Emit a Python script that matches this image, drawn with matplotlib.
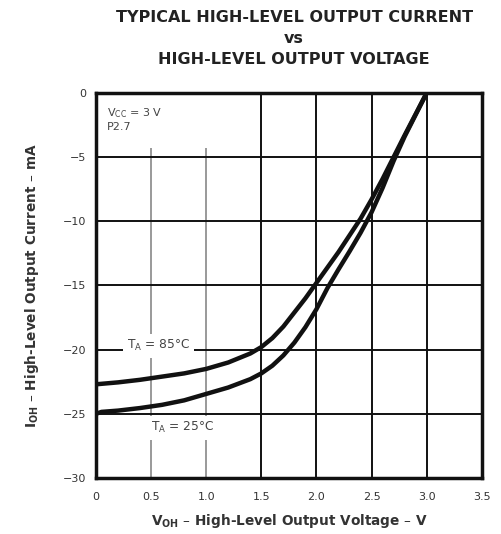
import numpy as np
import matplotlib
matplotlib.use("Agg")
import matplotlib.pyplot as plt
from matplotlib.patches import Rectangle

plt.rcParams['font.family'] = ['DejaVu Sans']

# (V_OH in V, I_OH in mA)
v_85 = [0.0, 0.2, 0.4, 0.6, 0.8, 1.0, 1.2, 1.4, 1.5, 1.6, 1.7, 1.8, 1.9, 2.0,
        2.1, 2.2, 2.3, 2.4, 2.5, 2.6, 2.7, 2.8, 2.9, 3.0]
i_85 = [-22.7, -22.55, -22.35, -22.1, -21.85, -21.5, -21.0, -20.3, -19.8, -19.1,
        -18.2, -17.1, -16.0, -14.8, -13.6, -12.4, -11.1, -9.8, -8.3, -6.7,
        -5.0, -3.3, -1.65, 0.0]

v_25 = [0.0, 0.05, 0.2, 0.4, 0.6, 0.8, 1.0, 1.2, 1.4, 1.5, 1.6, 1.7, 1.8, 1.9,
        2.0, 2.1, 2.2, 2.3, 2.4, 2.5, 2.6, 2.7, 2.8, 2.9, 3.0]
i_25 = [-25.0, -24.85, -24.75, -24.55, -24.3, -23.95, -23.45, -22.95, -22.3,
        -21.85, -21.25, -20.45, -19.45, -18.25, -16.85, -15.2, -13.75, -12.35,
        -10.9, -9.3, -7.4, -5.3, -3.4, -1.7, 0.0]

x_ticks = [0, 0.5, 1.0, 1.5, 2.0, 2.5, 3.0, 3.5]
x_labels = ['0', '0.5', '1.0', '1.5', '2.0', '2.5', '3.0', '3.5']
y_ticks = [0, -5, -10, -15, -20, -25, -30]
y_labels = ['0', '\u22125', '\u221210', '\u221215', '\u221220', '\u221225', '\u221230']

fig = plt.figure(figsize=(5.01, 5.34), dpi=100)
ax = fig.add_axes([0.1916, 0.1049, 0.770, 0.721])

ax.set_xlim(0, 3.5)
ax.set_ylim(-30, 0)
ax.set_xticks(x_ticks)
ax.set_xticklabels(x_labels)
ax.set_yticks(y_ticks)
ax.set_yticklabels(y_labels)
ax.tick_params(length=0, labelsize=8, colors='#333333')
ax.tick_params(axis='x', pad=10)
ax.tick_params(axis='y', pad=7)

ax.set_axisbelow(True)
ax.grid(True, color='#111111', linewidth=1.4)
# the two leftmost verticals print lighter in the datasheet
for gl in ax.xaxis.get_gridlines()[1:3]:
    gl.set_color('#999999')
for s in ax.spines.values():
    s.set_linewidth(2.5)
    s.set_color('#111111')
    s.set_zorder(5)

# blank area behind the condition note
ax.add_patch(Rectangle((0.02, -4.3), 1.2, 4.25, facecolor='white',
                       edgecolor='none', zorder=2))

ax.plot(v_85, i_85, color='#111111', linewidth=3.2, solid_capstyle='round', zorder=4)
ax.plot(v_25, i_25, color='#111111', linewidth=3.2, solid_capstyle='round', zorder=4)

box = dict(facecolor='white', edgecolor='none', pad=3)
ax.text(0.1, -1.0, '$\\mathregular{V_{CC}}$ = 3 V\nP2.7', fontsize=8, color='#444444',
        va='top', ha='left', linespacing=1.3, zorder=3)
ax.text(0.28, -19.7, '$\\mathregular{T_A}$ = 85\u00b0C', fontsize=8.8, color='#444444',
        va='center', ha='left', zorder=3, bbox=box)
ax.text(0.5, -26.1, '$\\mathregular{T_A}$ = 25\u00b0C', fontsize=8.8, color='#444444',
        va='center', ha='left', zorder=3, bbox=box)

ax.set_xlabel('$\\mathregular{V_{OH}}$ \u2013 High-Level Output Voltage \u2013 V',
              fontsize=9.8, fontweight='bold', color='#333333', labelpad=7)
ax.set_ylabel('$\\mathregular{I_{OH}}$ \u2013 High-Level Output Current \u2013 mA',
              fontsize=9.8, fontweight='bold', color='#333333', labelpad=16)

fig.text(0.587, 0.982, 'TYPICAL HIGH-LEVEL OUTPUT CURRENT\nvs\nHIGH-LEVEL OUTPUT VOLTAGE',
         ha='center', va='top', fontsize=11.5, fontweight='bold', color='#222222',
         linespacing=1.5)

fig.savefig('out.png', dpi=100)
